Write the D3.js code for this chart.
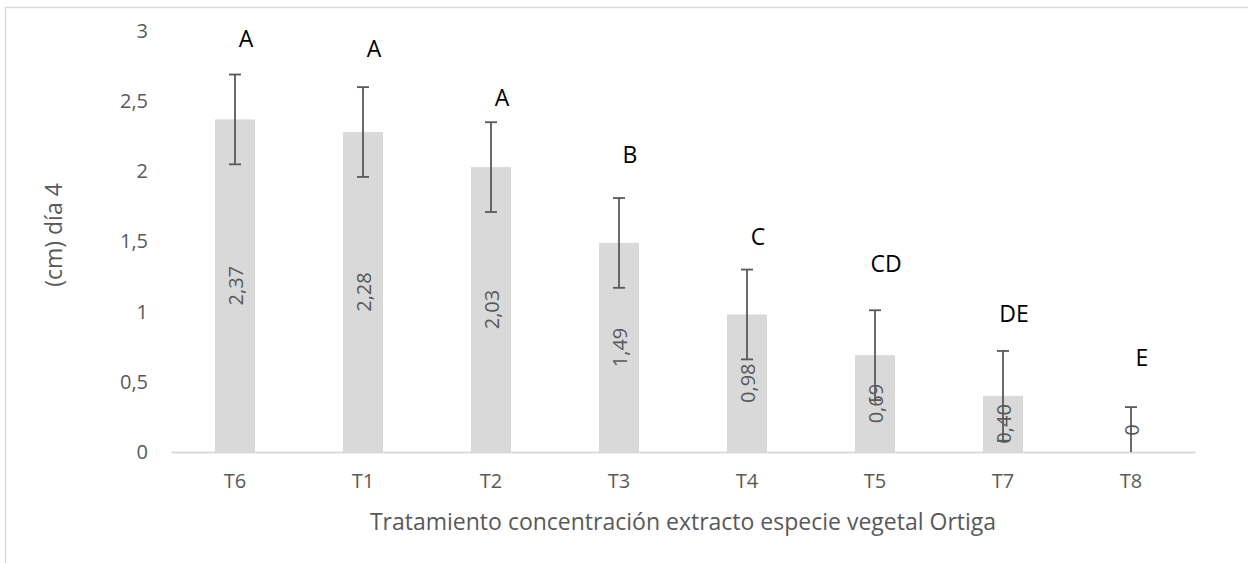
<!DOCTYPE html>
<html>
<head>
<meta charset="utf-8">
<script src="https://cdn.jsdelivr.net/npm/d3@7"></script>
<style>
  body { margin: 0; background: #fff; }
  text { font-family: "Open Sans", sans-serif; }
</style>
</head>
<body>
<div id="chart"></div>
<script>
// Data
const categories = ['T6', 'T1', 'T2', 'T3', 'T4', 'T5', 'T7', 'T8']
const values = [2.37, 2.28, 2.03, 1.49, 0.98, 0.69, 0.40, 0]
const errors = [0.32, 0.32, 0.32, 0.32, 0.32, 0.32, 0.32, 0.32]
const letters = ['A', 'A', 'A', 'B', 'C', 'CD', 'DE', 'E']
const letterLevels = [2.95, 2.88, 2.53, 2.12, 1.54, 1.35, 0.99, 0.68]
const yTicks = [0, 0.5, 1, 1.5, 2, 2.5, 3]

function draw() {
    const dimension = {
        width: 1248,
        height: 563,
        margin: { top: 31, bottom: 111, left: 171, right: 53 }
    }
    dimension.ctrwidth = dimension.width - dimension.margin.left - dimension.margin.right
    dimension.ctrheight = dimension.height - dimension.margin.top - dimension.margin.bottom

    const svg = d3.select('#chart')
        .append('svg')
        .attr('width', dimension.width)
        .attr('height', dimension.height)

    // chart frame
    svg.append('rect')
        .attr('x', 5.5)
        .attr('y', 7.5)
        .attr('width', 1300)
        .attr('height', 700)
        .attr('fill', 'none')
        .attr('stroke', '#d9d9d9')
        .attr('stroke-width', 1.5)

    const ctr = svg.append('g')
        .attr('transform', `translate(${dimension.margin.left}, ${dimension.margin.top})`)

    // Scales
    const xScale = d3.scaleBand()
        .domain(categories)
        .range([0, dimension.ctrwidth])

    const yScale = d3.scaleLinear()
        .domain([0, 3])
        .range([dimension.ctrheight, 0])

    const barWidth = 40
    const cx = (i) => xScale(categories[i]) + xScale.bandwidth() / 2

    // Axes
    const yAxis = d3.axisLeft(yScale)
        .tickValues(yTicks)
        .tickSize(0)
        .tickPadding(23)
        .tickFormat(d => String(d).replace('.', ','))

    const yAxisGroup = ctr.append('g').call(yAxis)
    yAxisGroup.select('.domain').remove()
    yAxisGroup.selectAll('text')
        .attr('fill', '#595959')
        .style('font-size', '20px')
        .style('font-family', '"Open Sans", sans-serif')

    // Bars
    ctr.selectAll('rect.bar')
        .data(values)
        .join('rect')
        .attr('class', 'bar')
        .attr('x', (d, i) => cx(i) - barWidth / 2)
        .attr('y', d => yScale(d))
        .attr('width', barWidth)
        .attr('height', d => dimension.ctrheight - yScale(d))
        .attr('fill', '#d9d9d9')

    const xAxis = d3.axisBottom(xScale).tickSize(0).tickPadding(22)
    const xAxisGroup = ctr.append('g')
        .attr('transform', `translate(0, ${dimension.ctrheight})`)
        .call(xAxis)
    xAxisGroup.select('.domain')
        .attr('stroke', '#d9d9d9')
        .attr('stroke-width', 2)
    xAxisGroup.selectAll('text')
        .attr('fill', '#595959')
        .style('font-size', '20px')
        .style('font-family', '"Open Sans", sans-serif')

    // Data labels (rotated)
    ctr.selectAll('text.val')
        .data(values)
        .join('text')
        .attr('class', 'val')
        .attr('transform', (d, i) => {
            const y = Math.min(yScale(d / 2), dimension.ctrheight - 22)
            return `translate(${cx(i)}, ${y}) rotate(-90)`
        })
        .attr('text-anchor', 'middle')
        .attr('dominant-baseline', 'central')
        .attr('fill', '#595959')
        .style('font-size', '20px')
        .text(d => d === 0 ? '0' : d.toFixed(2).replace('.', ','))

    // Error bars
    const err = ctr.selectAll('g.err')
        .data(values)
        .join('g')
        .attr('class', 'err')
        .attr('stroke', '#595959')
        .attr('stroke-width', 1.8)

    err.append('line')
        .attr('x1', (d, i) => cx(i))
        .attr('x2', (d, i) => cx(i))
        .attr('y1', (d, i) => yScale(Math.max(0, d - errors[i])))
        .attr('y2', (d, i) => yScale(d + errors[i]))
    err.append('line')
        .attr('x1', (d, i) => cx(i) - 6)
        .attr('x2', (d, i) => cx(i) + 6)
        .attr('y1', (d, i) => yScale(d + errors[i]))
        .attr('y2', (d, i) => yScale(d + errors[i]))
    err.filter(d => d > 0.32).append('line')
        .attr('x1', (d, i) => cx(i) - 6)
        .attr('x2', (d, i) => cx(i) + 6)
        .attr('y1', (d, i) => yScale(d - errors[i]))
        .attr('y2', (d, i) => yScale(d - errors[i]))

    // Significance letters
    ctr.selectAll('text.letter')
        .data(letters)
        .join('text')
        .attr('class', 'letter')
        .attr('x', (d, i) => cx(i) + 11)
        .attr('y', (d, i) => yScale(letterLevels[i]))
        .attr('text-anchor', 'middle')
        .attr('dominant-baseline', 'central')
        .attr('fill', '#000')
        .style('font-size', '23px')
        .text(d => d)

    // Titles
    svg.append('text')
        .attr('x', dimension.margin.left + dimension.ctrwidth / 2)
        .attr('y', 530)
        .attr('text-anchor', 'middle')
        .attr('fill', '#595959')
        .style('font-size', '23px')
        .text('Tratamiento concentración extracto especie vegetal Ortiga')

    svg.append('text')
        .attr('transform', 'translate(62, 235) rotate(-90)')
        .attr('text-anchor', 'middle')
        .attr('fill', '#595959')
        .style('font-size', '23px')
        .text('(cm) día 4')
}

draw()
</script>
</body>
</html>
